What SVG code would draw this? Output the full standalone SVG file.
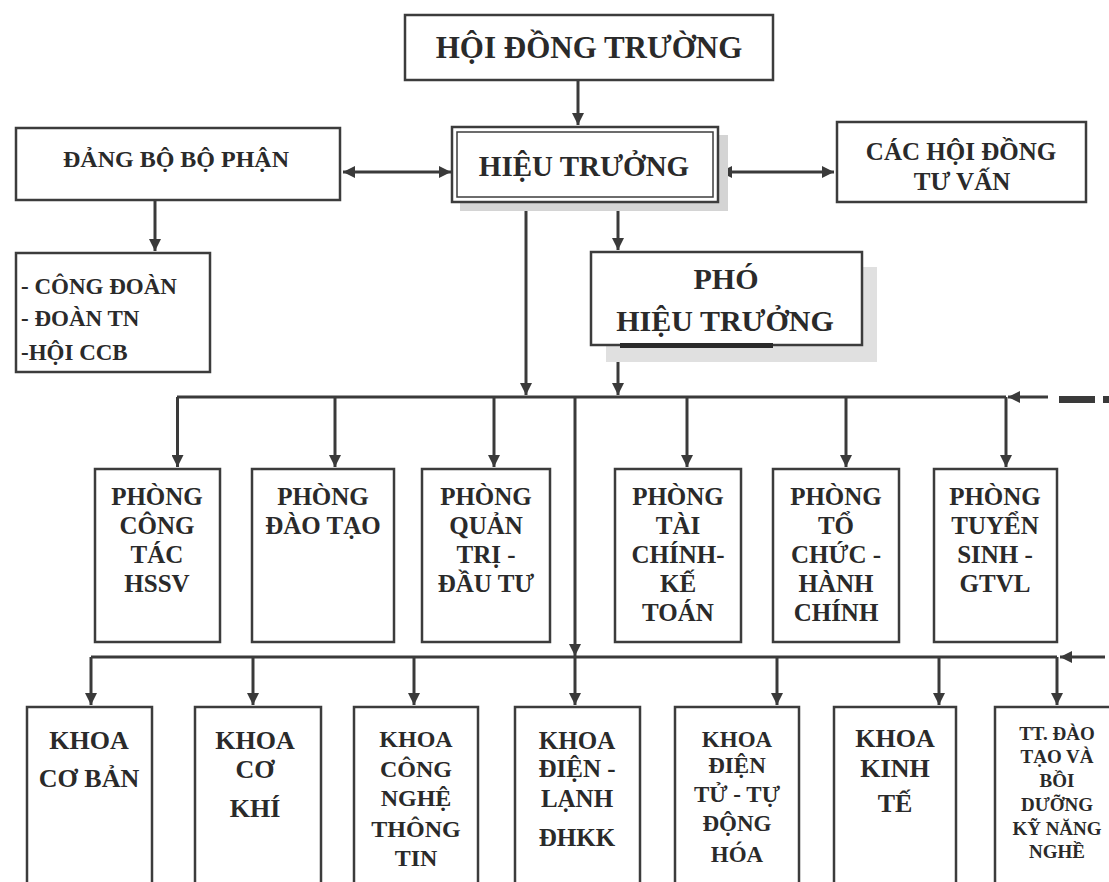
<svg xmlns="http://www.w3.org/2000/svg" width="1109" height="882" viewBox="0 0 1109 882">
<style>
.box{fill:#fff;stroke:#3c3c3c;stroke-width:2.5}
.t{font-family:"Liberation Serif","DejaVu Serif",serif;font-weight:bold;fill:#2a2a2a;text-anchor:middle}
.tl{font-family:"Liberation Serif","DejaVu Serif",serif;font-weight:bold;fill:#2a2a2a;text-anchor:start}
.c{stroke:#3a3a3a;stroke-width:3;fill:none}
.shadow{fill:#d4d4d4}
</style>
<defs>
<marker id="ah" viewBox="0 0 10 10" refX="10" refY="5" markerWidth="12" markerHeight="12" markerUnits="userSpaceOnUse" orient="auto-start-reverse">
<path d="M0,0 L10,5 L0,10 z" fill="#3a3a3a"/>
</marker>
</defs>
<rect width="1109" height="882" fill="#fff"/>

<g id="connectors">
<line class="c" x1="578" y1="80" x2="578" y2="125" marker-end="url(#ah)"/>
<line class="c" x1="343" y1="172" x2="451" y2="172" marker-start="url(#ah)" marker-end="url(#ah)"/>
<line class="c" x1="720" y1="172" x2="834" y2="172" marker-start="url(#ah)" marker-end="url(#ah)"/>
<line class="c" x1="155" y1="200" x2="155" y2="251" marker-end="url(#ah)"/>
<line class="c" x1="526" y1="202" x2="526" y2="395" marker-end="url(#ah)"/>
<line class="c" x1="618" y1="202" x2="618" y2="250" marker-end="url(#ah)"/>
<line class="c" x1="618" y1="345" x2="618" y2="395" marker-end="url(#ah)"/>
<line class="c" x1="177" y1="397" x2="1006" y2="397"/>
<line class="c" x1="177.5" y1="397" x2="177.5" y2="467" marker-end="url(#ah)"/>
<line class="c" x1="335" y1="397" x2="335" y2="467" marker-end="url(#ah)"/>
<line class="c" x1="494" y1="397" x2="494" y2="467" marker-end="url(#ah)"/>
<line class="c" x1="687" y1="397" x2="687" y2="467" marker-end="url(#ah)"/>
<line class="c" x1="846" y1="397" x2="846" y2="467" marker-end="url(#ah)"/>
<line class="c" x1="1006" y1="397" x2="1006" y2="467" marker-end="url(#ah)"/>
<line class="c" x1="1048" y1="397" x2="1008" y2="397" marker-end="url(#ah)"/>
<rect x="1059" y="396" width="36" height="7" fill="#3a3a3a"/>
<rect x="1103" y="396" width="6" height="7" fill="#3a3a3a"/>
<line class="c" x1="575" y1="397" x2="575" y2="656" marker-end="url(#ah)"/>
<line class="c" x1="91" y1="657" x2="1057" y2="657"/>
<line class="c" x1="91" y1="657" x2="91" y2="705" marker-end="url(#ah)"/>
<line class="c" x1="253" y1="657" x2="253" y2="705" marker-end="url(#ah)"/>
<line class="c" x1="414" y1="657" x2="414" y2="705" marker-end="url(#ah)"/>
<line class="c" x1="575" y1="657" x2="575" y2="705" marker-end="url(#ah)"/>
<line class="c" x1="777" y1="657" x2="777" y2="705" marker-end="url(#ah)"/>
<line class="c" x1="939" y1="657" x2="939" y2="705" marker-end="url(#ah)"/>
<line class="c" x1="1057" y1="657" x2="1057" y2="705" marker-end="url(#ah)"/>
<line class="c" x1="1105" y1="657" x2="1060" y2="657" marker-end="url(#ah)"/>
</g>

<g id="hoi-dong-truong">
<rect class="box" x="405" y="15" width="368" height="65"/>
<text class="t" x="589" y="58" font-size="31">HỘI ĐỒNG TRƯỜNG</text>
</g>

<g id="hieu-truong">
<rect class="shadow" x="460" y="135" width="268" height="76"/>
<rect class="box" x="452" y="127" width="266" height="75"/>
<rect x="457" y="132" width="256" height="65" fill="none" stroke="#3c3c3c" stroke-width="1.5"/>
<text class="t" x="584" y="176" font-size="29">HIỆU TRƯỞNG</text>
</g>

<g id="dang-bo">
<rect class="box" x="16" y="128" width="324" height="72"/>
<text class="t" x="176" y="167" font-size="24">ĐẢNG BỘ BỘ PHẬN</text>
</g>

<g id="cac-hoi-dong">
<rect class="box" x="837" y="122" width="249" height="80"/>
<text class="t" x="961" y="160" font-size="25">CÁC HỘI ĐỒNG</text>
<text class="t" x="962" y="190" font-size="25">TƯ VẤN</text>
</g>

<g id="cong-doan">
<rect class="box" x="16" y="253" width="194" height="119"/>
<text class="tl" x="21" y="294" font-size="23">- CÔNG ĐOÀN</text>
<text class="tl" x="21" y="326" font-size="23">- ĐOÀN TN</text>
<text class="tl" x="21" y="360" font-size="23">-HỘI CCB</text>
</g>

<g id="pho-hieu-truong">
<rect x="606" y="267" width="271" height="95" fill="#e0e0e0"/>
<rect class="box" x="591" y="252" width="271" height="93"/>
<text class="t" x="726" y="289" font-size="30">PHÓ</text>
<text class="t" x="725" y="331" font-size="30">HIỆU TRƯỞNG</text>
<rect x="620" y="343" width="153" height="5" fill="#2a2a2a"/>
</g>

<g id="phong-ctct">
<rect class="box" x="95" y="469" width="125" height="173"/>
<text class="t" x="157" y="505" font-size="25">PHÒNG</text>
<text class="t" x="157" y="534" font-size="25">CÔNG</text>
<text class="t" x="157" y="563" font-size="25">TÁC</text>
<text class="t" x="157" y="592" font-size="25">HSSV</text>
</g>

<g id="phong-dao-tao">
<rect class="box" x="252" y="469" width="142" height="173"/>
<text class="t" x="323" y="505" font-size="25">PHÒNG</text>
<text class="t" x="323" y="534" font-size="25">ĐÀO TẠO</text>
</g>

<g id="phong-quan-tri">
<rect class="box" x="422" y="469" width="128" height="173"/>
<text class="t" x="486" y="505" font-size="25">PHÒNG</text>
<text class="t" x="486" y="534" font-size="25">QUẢN</text>
<text class="t" x="486" y="563" font-size="25">TRỊ -</text>
<text class="t" x="486" y="592" font-size="25">ĐẦU TƯ</text>
</g>

<g id="phong-tai-chinh">
<rect class="box" x="615" y="469" width="126" height="173"/>
<text class="t" x="678" y="505" font-size="25">PHÒNG</text>
<text class="t" x="678" y="534" font-size="25">TÀI</text>
<text class="t" x="678" y="563" font-size="25">CHÍNH-</text>
<text class="t" x="678" y="592" font-size="25">KẾ</text>
<text class="t" x="678" y="621" font-size="25">TOÁN</text>
</g>

<g id="phong-to-chuc">
<rect class="box" x="773" y="469" width="126" height="173"/>
<text class="t" x="836" y="505" font-size="25">PHÒNG</text>
<text class="t" x="836" y="534" font-size="25">TỔ</text>
<text class="t" x="836" y="563" font-size="25">CHỨC -</text>
<text class="t" x="836" y="592" font-size="25">HÀNH</text>
<text class="t" x="836" y="621" font-size="25">CHÍNH</text>
</g>

<g id="phong-tuyen-sinh">
<rect class="box" x="934" y="469" width="123" height="173"/>
<text class="t" x="995" y="505" font-size="25">PHÒNG</text>
<text class="t" x="995" y="534" font-size="25">TUYỂN</text>
<text class="t" x="995" y="563" font-size="25">SINH -</text>
<text class="t" x="995" y="592" font-size="25">GTVL</text>
</g>

<g id="khoa-co-ban">
<rect class="box" x="27" y="707" width="125" height="190"/>
<text class="t" x="89" y="749" font-size="26">KHOA</text>
<text class="t" x="89" y="787" font-size="26">CƠ BẢN</text>
</g>

<g id="khoa-co-khi">
<rect class="box" x="195" y="707" width="126" height="190"/>
<text class="t" x="255" y="749" font-size="26">KHOA</text>
<text class="t" x="255" y="778" font-size="26">CƠ</text>
<text class="t" x="255" y="817" font-size="26">KHÍ</text>
</g>

<g id="khoa-cntt">
<rect class="box" x="354" y="707" width="124" height="190"/>
<text class="t" x="416" y="747" font-size="24">KHOA</text>
<text class="t" x="416" y="777" font-size="24">CÔNG</text>
<text class="t" x="416" y="806" font-size="24">NGHỆ</text>
<text class="t" x="416" y="837" font-size="24">THÔNG</text>
<text class="t" x="416" y="866" font-size="24">TIN</text>
</g>

<g id="khoa-dien-lanh">
<rect class="box" x="515" y="707" width="125" height="190"/>
<text class="t" x="577" y="749" font-size="25">KHOA</text>
<text class="t" x="577" y="777" font-size="25">ĐIỆN -</text>
<text class="t" x="577" y="807" font-size="25">LẠNH</text>
<text class="t" x="577" y="846" font-size="25">ĐHKK</text>
</g>

<g id="khoa-dien-tu">
<rect class="box" x="675" y="707" width="124" height="190"/>
<text class="t" x="737" y="747" font-size="23">KHOA</text>
<text class="t" x="737" y="773" font-size="23">ĐIỆN</text>
<text class="t" x="737" y="802" font-size="23">TỬ -  TỰ</text>
<text class="t" x="737" y="831" font-size="23">ĐỘNG</text>
<text class="t" x="737" y="862" font-size="23">HÓA</text>
</g>

<g id="khoa-kinh-te">
<rect class="box" x="834" y="707" width="122" height="190"/>
<text class="t" x="895" y="747" font-size="26">KHOA</text>
<text class="t" x="895" y="777" font-size="26">KINH</text>
<text class="t" x="895" y="812" font-size="26">TẾ</text>
</g>

<g id="tt-dao-tao">
<rect class="box" x="995" y="707" width="125" height="190"/>
<text class="t" x="1057" y="740" font-size="19">TT. ĐÀO</text>
<text class="t" x="1057" y="763" font-size="19">TẠO VÀ</text>
<text class="t" x="1057" y="787" font-size="19">BỒI</text>
<text class="t" x="1057" y="811" font-size="19">DƯỠNG</text>
<text class="t" x="1057" y="835" font-size="19">KỸ NĂNG</text>
<text class="t" x="1057" y="858" font-size="19">NGHỀ</text>
</g>
</svg>
